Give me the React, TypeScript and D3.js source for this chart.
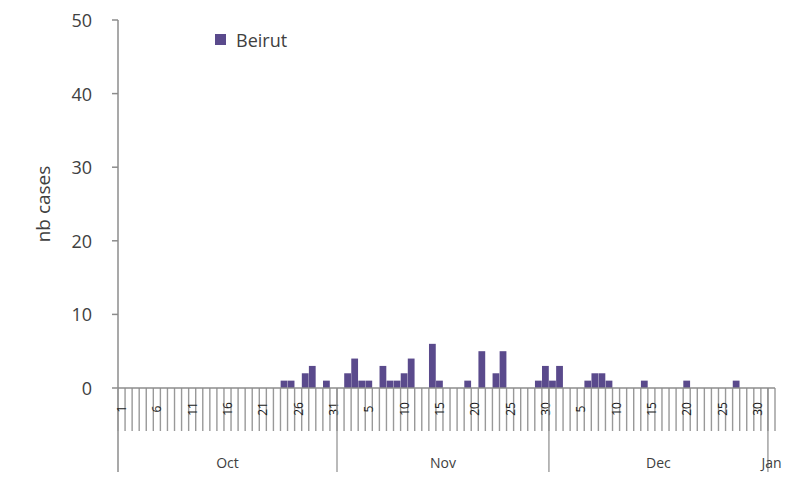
import React from "react";
import * as d3 from "d3";

// daily case counts, Oct 1 -> Jan 1
const octCases = [0, 0, 0, 0, 0, 0, 0, 0, 0, 0, 0, 0, 0, 0, 0, 0, 0, 0, 0, 0, 0, 0, 0, 1, 1, 0, 2, 3, 0, 1, 0];
const novCases = [0, 2, 4, 1, 1, 0, 3, 1, 1, 2, 4, 0, 0, 6, 1, 0, 0, 0, 1, 0, 5, 0, 2, 5, 0, 0, 0, 0, 1, 3];
const decCases = [1, 3, 0, 0, 0, 1, 2, 2, 1, 0, 0, 0, 0, 1, 0, 0, 0, 0, 0, 1, 0, 0, 0, 0, 0, 0, 1, 0, 0, 0, 0];
const janCases = [0];

const months = ["Oct", "Nov", "Dec", "Jan"];
const monthCases = [octCases, novCases, decCases, janCases];
const yTicks = [0, 10, 20, 30, 40, 50];
const seriesName = "Beirut";
const labelEvery = 5;

const days = monthCases.flatMap((arr, m) =>
  arr.map((v, i) => ({ month: months[m], day: i + 1, value: v }))
);

const W = 801;
const H = 479;
const left = 118;
const right = 775;
const top = 20;
const base = 388;
const bandBottom = 431;
const groupBottom = 472;
const barColor = "#5a4a8c";
const lineColor = "#8c8c8c";
const textColor = "#404040";
const font = "'Open Sans', 'Noto Sans', sans-serif";

export default function App() {
  const x = d3
    .scaleBand<number>()
    .domain(d3.range(days.length))
    .range([left, right])
    .paddingInner(0.04)
    .paddingOuter(0.02);
  const y = d3.scaleLinear().domain([0, 50]).range([base, top]);
  const step = (right - left) / days.length;

  // month boundaries (category index where month starts)
  const starts: number[] = [];
  let acc = 0;
  monthCases.forEach((arr) => {
    starts.push(acc);
    acc += arr.length;
  });

  return (
    <div style={{ position: "absolute", left: 0, top: 0 }}>
      <svg width={W} height={H} style={{ background: "#fff", display: "block" }}>
        {/* y axis */}
        <line x1={left} x2={left} y1={top} y2={groupBottom} stroke={lineColor} strokeWidth={1.5} />
        {yTicks.map((t) => (
          <g key={t}>
            <line x1={left - 6} x2={left} y1={y(t)} y2={y(t)} stroke={lineColor} strokeWidth={1.5} />
            <text
              x={92}
              y={y(t)}
              textAnchor="end"
              dominantBaseline="central"
              fontFamily={font}
              fontSize={18}
              fill={textColor}
            >
              {t}
            </text>
          </g>
        ))}
        <text
          transform={`translate(43,${(top + base) / 2}) rotate(-90)`}
          textAnchor="middle"
          dominantBaseline="central"
          fontFamily={font}
          fontSize={19}
          fill={textColor}
        >
          nb cases
        </text>

        {/* bars */}
        {days.map((d, i) =>
          d.value > 0 ? (
            <rect
              key={i}
              x={x(i)}
              y={y(d.value)}
              width={x.bandwidth()}
              height={base - y(d.value)}
              fill={barColor}
            />
          ) : null
        )}

        {/* category tick band */}
        {d3.range(days.length + 1).map((i) => (
          <line
            key={"t" + i}
            x1={left + i * step}
            x2={left + i * step}
            y1={base}
            y2={bandBottom}
            stroke="#999"
            strokeWidth={1.4}
          />
        ))}
        <line x1={left} x2={right} y1={base} y2={base} stroke={lineColor} strokeWidth={1.5} />
        {days.map((d, i) =>
          i % labelEvery === 0 ? (
            <text
              key={"l" + i}
              transform={`translate(${left + (i + 0.5) * step},${409}) rotate(-90)`}
              textAnchor="middle"
              dominantBaseline="central"
              fontFamily={font}
              fontSize={12}
              fill="#1a1a1a"
            >
              {d.day}
            </text>
          ) : null
        )}

        {/* month groups */}
        {starts.map((s, m) => (
          <g key={months[m]}>
            {m > 0 && (
              <line
                x1={left + s * step}
                x2={left + s * step}
                y1={base}
                y2={groupBottom}
                stroke={lineColor}
                strokeWidth={1.2}
              />
            )}
            <text
              x={left + (s + monthCases[m].length / 2) * step}
              y={462}
              textAnchor="middle"
              dominantBaseline="central"
              fontFamily={font}
              fontSize={14}
              fill={textColor}
            >
              {months[m]}
            </text>
          </g>
        ))}

        {/* legend */}
        <rect x={215} y={34} width={11} height={11} fill={barColor} />
        <text x={236} y={40} dominantBaseline="central" fontFamily={font} fontSize={18} fill={textColor}>
          {seriesName}
        </text>
      </svg>
    </div>
  );
}
